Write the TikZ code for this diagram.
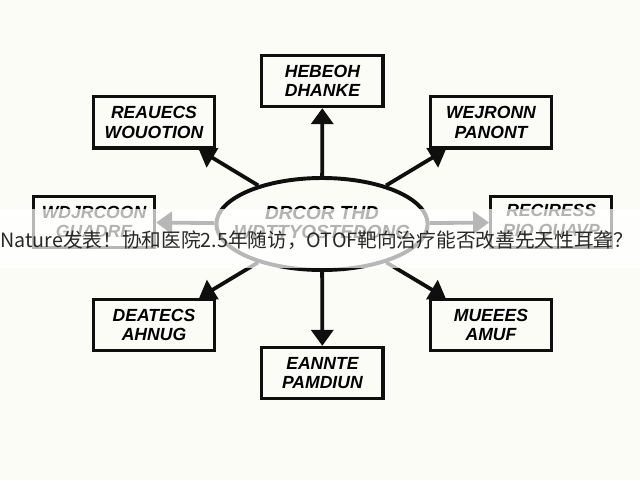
\documentclass[tikz,border=0pt]{standalone}
\usepackage{fontspec}
\setmainfont{Liberation Sans}
\newfontfamily\cjkfont{Noto Sans CJK SC}
\usetikzlibrary{arrows.meta,positioning,shapes.geometric}
\definecolor{papercol}{RGB}{252,252,247}
\definecolor{inkcol}{RGB}{15,15,15}
\definecolor{captcol}{RGB}{40,40,40}
\tikzset{
  bx/.style={draw=inkcol, line width=2.2pt, fill=papercol, minimum width=3.03cm,
             minimum height=1.28cm, align=center, inner sep=2pt,
             font=\fontsize{12.5}{14}\selectfont\bfseries\itshape},
  hubell/.style={ellipse, draw=inkcol, line width=2.8pt, fill=papercol,
                 minimum width=5.28cm, minimum height=2.3cm, inner sep=0pt},
  hubtxt/.style={align=center, inner sep=0pt,
                 font=\fontsize{13.5}{13.5}\selectfont\bfseries\itshape},
  outarr/.style={-{Triangle[length=4mm, width=5.5mm]}, inkcol, line width=2.7pt},
  veil/.style={white, opacity=0.7},
  capt/.style={font=\fontsize{14}{15}\selectfont\cjkfont, text=captcol, inner sep=0pt},
}

\begin{document}
\begin{tikzpicture}
  \fill[papercol] (0,0) rectangle (16,12);
  \useasboundingbox (0,0) rectangle (16,12);
  % outer boxes
  \node[bx] (top)   at (8.06,9.975)  {HEBEOH\\DHANKE};
  \node[bx] (tleft) at (3.85,8.94)   {REAUECS\\WOUOTION};
  \node[bx] (tright) at (12.275,8.94) {WEJRONN\\PANONT};
  \node[bx] (left)  at (2.35,6.45)   {WDJRCOON\\GUADRE};
  \node[bx] (right) at (13.78,6.45)  {RECIRESS\\RIO QUAVP};
  \node[bx] (bleft) at (3.85,3.875)  {DEATECS\\AHNUG};
  \node[bx] (bottom) at (8.06,2.675) {EANNTE\\PAMDIUN};
  \node[bx] (bright) at (12.275,3.875) {MUEEES\\AMUF};
  % centre
  \node[hubell] (hub) at (8.05,6.4) {};
  \node[hubtxt] (hubtext) at (8.05,6.45) {DRCOR THD\\WDTTYOSTEDONG};
  % arrows
  \foreach \b in {top,tleft,tright,left,right,bleft,bottom,bright}
    \draw[outarr] (hub) -- (\b);
  % caption band
  \fill[veil] (0,5.3) rectangle (16,6.775);
  \node[capt, anchor=west] (caption) at (0,6.0) {Nature发表！协和医院2.5年随访，OTOF靶向治疗能否改善先天性耳聋？};
\end{tikzpicture}
\end{document}
